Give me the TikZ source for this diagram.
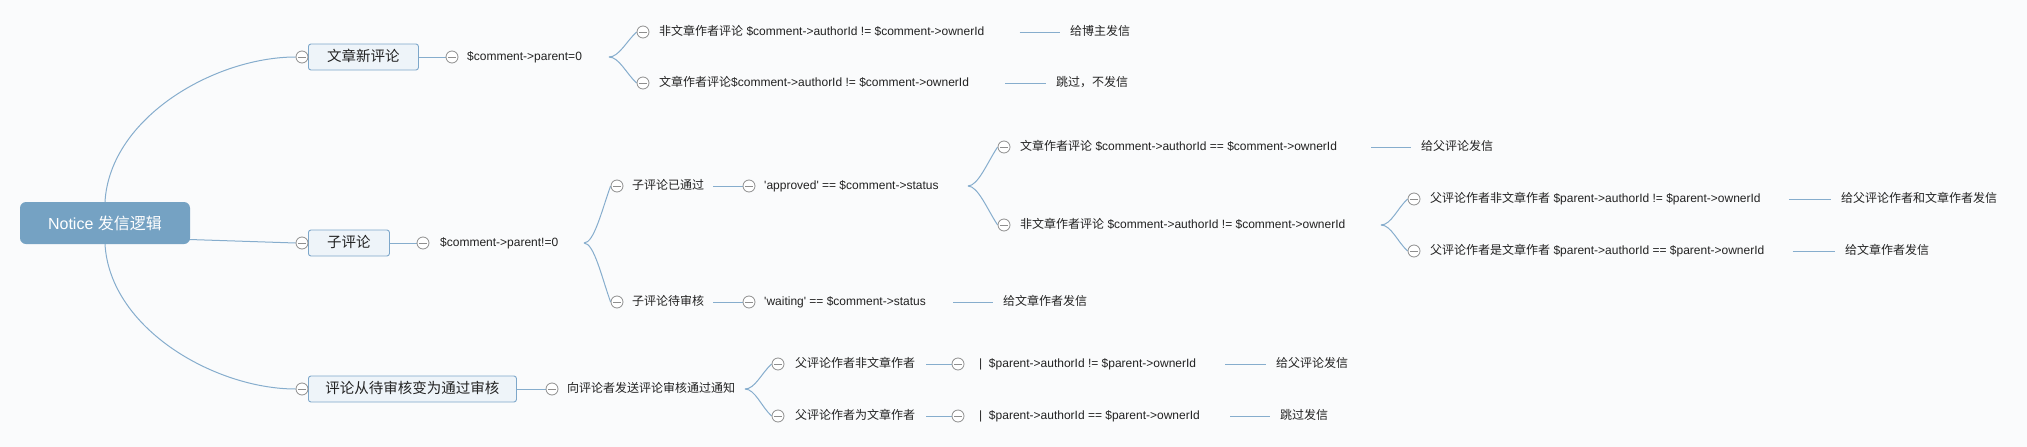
\documentclass[tikz,border=0pt]{standalone}
\usepackage{fontspec}
\setmainfont{Liberation Sans}
\newfontfamily\cjk{Noto Sans CJK SC}
\usetikzlibrary{calc}
\definecolor{bgc}{HTML}{FAFBFC}
\definecolor{linec}{HTML}{86ADCD}
\definecolor{rootc}{HTML}{75A2C3}
\definecolor{boxc}{HTML}{EEF4F9}
\definecolor{boxline}{HTML}{7DA7CA}
\definecolor{circc}{HTML}{8E8E8E}
\definecolor{txtc}{HTML}{222222}
\pgfdeclarelayer{bg}
\pgfsetlayers{bg,main}
\newcommand{\zh}[1]{{\cjk #1}}
\newcommand{\sq}{\textquotesingle}
\begin{document}
\begin{tikzpicture}[x=1pt,y=-1pt,
  rootbox/.style={fill=rootc, rounded corners=6pt, text=white, minimum width=170pt,
    minimum height=42pt, inner sep=0pt, font=\fontsize{16}{18}\selectfont},
  lonebox/.style={draw=boxline, fill=boxc, rounded corners=2.5pt, anchor=west,
    minimum height=26pt, inner xsep=0pt, inner ysep=0pt, line width=0.9pt, text=txtc,
    font=\fontsize{14.5}{16}\selectfont\cjk, text height=11pt, text depth=3pt},
  collapse/.style={circle, draw=circc, fill=white, minimum size=12pt, inner sep=0pt,
    line width=0.8pt,
    path picture={\draw[circc, line width=0.8pt]
      ([xshift=-4pt]path picture bounding box.center) --
      ([xshift=4pt]path picture bounding box.center);}},
  txt/.style={anchor=west, inner sep=0pt, text=txtc, font=\fontsize{12}{14}\selectfont,
    text height=9pt, text depth=3pt},
  link/.style={draw=linec, line width=1pt}
]
\begin{pgfonlayer}{bg}
\fill[bgc] (0,0) rectangle (2027,447);
\end{pgfonlayer}
\useasboundingbox (0,0) rectangle (2027,447);

% root
\node[rootbox] (root) at (105,223) {Notice \zh{发信逻辑}};

% level 1
\node[lonebox, minimum width=110pt] (a1) at (308,57) {文章新评论};
\node[lonebox, minimum width=81pt] (a2) at (308,243) {子评论};
\node[lonebox, minimum width=208pt] (a3) at (308,389) {评论从待审核变为通过审核};
\node[collapse] (k1) at (302,57) {};
\node[collapse] (k2) at (302,243) {};
\node[collapse] (k3) at (302,389) {};

% subtree 1
\node[collapse] (m1) at (452,57) {};
\node[txt] (b1) at (467,57) {\$comment->parent=0};
\coordinate (t1) at (609,57);
\node[collapse] (c11o) at (643,32) {};
\node[txt] (c11) at (659,32) {\zh{非文章作者评论} \$comment->authorId != \$comment->ownerId};
\node[txt] (l11) at (1070,32) {\zh{给博主发信}};
\node[collapse] (c12o) at (643,83) {};
\node[txt] (c12) at (659,83) {\zh{文章作者评论}\$comment->authorId != \$comment->ownerId};
\node[txt] (l12) at (1056,83) {\zh{跳过，不发信}};

% subtree 2
\node[collapse] (m2) at (423,243) {};
\node[txt] (b2) at (440,243) {\$comment->parent!=0};
\coordinate (t2) at (584,243);
\node[collapse] (c21o) at (617,186) {};
\node[txt] (c21) at (632,186) {\zh{子评论已通过}};
\node[collapse] (n21) at (749,186) {};
\node[txt] (d21) at (764,186) {\sq approved\sq{} == \$comment->status};
\coordinate (t3) at (968,186);
\node[collapse] (e1o) at (1004,147) {};
\node[txt] (e1) at (1020,147) {\zh{文章作者评论} \$comment->authorId == \$comment->ownerId};
\node[txt] (le1) at (1421,147) {\zh{给父评论发信}};
\node[collapse] (e2o) at (1004,225) {};
\node[txt] (e2) at (1020,225) {\zh{非文章作者评论} \$comment->authorId != \$comment->ownerId};
\coordinate (t4) at (1381,225);
\node[collapse] (f1o) at (1414,199) {};
\node[txt] (f1) at (1430,199) {\zh{父评论作者非文章作者} \$parent->authorId != \$parent->ownerId};
\node[txt] (lf1) at (1841,199) {\zh{给父评论作者和文章作者发信}};
\node[collapse] (f2o) at (1414,251) {};
\node[txt] (f2) at (1430,251) {\zh{父评论作者是文章作者} \$parent->authorId == \$parent->ownerId};
\node[txt] (lf2) at (1845,251) {\zh{给文章作者发信}};
\node[collapse] (c22o) at (617,302) {};
\node[txt] (c22) at (632,302) {\zh{子评论待审核}};
\node[collapse] (n22) at (749,302) {};
\node[txt] (d22) at (764,302) {\sq waiting\sq{} == \$comment->status};
\node[txt] (l22) at (1003,302) {\zh{给文章作者发信}};

% subtree 3
\node[collapse] (m3) at (552,389) {};
\node[txt] (b3) at (567,389) {\zh{向评论者发送评论审核通过通知}};
\coordinate (t5) at (745,389);
\node[collapse] (g1o) at (778,364) {};
\node[txt] (g1) at (795,364) {\zh{父评论作者非文章作者}};
\node[collapse] (h1) at (958,364) {};
\node[txt] (h1t) at (979,364) {| \ \$parent->authorId != \$parent->ownerId};
\node[txt] (lg1) at (1276,364) {\zh{给父评论发信}};
\node[collapse] (g2o) at (778,416) {};
\node[txt] (g2) at (795,416) {\zh{父评论作者为文章作者}};
\node[collapse] (h2) at (958,416) {};
\node[txt] (h2t) at (979,416) {| \ \$parent->authorId == \$parent->ownerId};
\node[txt] (lg2) at (1280,416) {\zh{跳过发信}};

\begin{pgfonlayer}{bg}
% root links
\draw[link] (root.north) .. controls +(5,-85) and +(-80,0) .. (k1.west);
\draw[link] ([shift={(-10,-5)}]root.south east) -- (k2.west);
\draw[link] (root.south) .. controls +(5,85) and +(-80,0) .. (k3.west);
% level1 -> level2
\draw[link] (a1.east) -- (m1.west);
\draw[link] (a2.east) -- (m2.west);
\draw[link] (a3.east) -- (m3.west);
% braces
\draw[link] (t1) .. controls +(10,0) and +(-10,9) .. (c11o.west);
\draw[link] (t1) .. controls +(10,0) and +(-10,-9) .. (c12o.west);
\draw[link] (t2) .. controls +(10,0) and +(-9,25) .. (c21o.west);
\draw[link] (t2) .. controls +(10,0) and +(-9,-25) .. (c22o.west);
\draw[link] (t3) .. controls +(10,0) and +(-10,15) .. (e1o.west);
\draw[link] (t3) .. controls +(10,0) and +(-10,-15) .. (e2o.west);
\draw[link] (t4) .. controls +(10,0) and +(-10,9) .. (f1o.west);
\draw[link] (t4) .. controls +(10,0) and +(-10,-9) .. (f2o.west);
\draw[link] (t5) .. controls +(10,0) and +(-10,9) .. (g1o.west);
\draw[link] (t5) .. controls +(10,0) and +(-10,-9) .. (g2o.west);
% text -> circle
\draw[link, shorten <=9pt] (c21.east) -- (n21.west);
\draw[link, shorten <=9pt] (c22.east) -- (n22.west);
\draw[link, shorten <=11pt] (g1.east) -- (h1.west);
\draw[link, shorten <=11pt] (g2.east) -- (h2.west);
% leaf lines
\draw[link, shorten <=35pt, shorten >=10pt] (c11.east) -- (l11.west);
\draw[link, shorten <=36pt, shorten >=10pt] (c12.east) -- (l12.west);
\draw[link, shorten <=34pt, shorten >=10pt] (e1.east) -- (le1.west);
\draw[link, shorten <=28pt, shorten >=10pt] (f1.east) -- (lf1.west);
\draw[link, shorten <=28pt, shorten >=10pt] (f2.east) -- (lf2.west);
\draw[link, shorten <=27pt, shorten >=10pt] (d22.east) -- (l22.west);
\draw[link, shorten <=29pt, shorten >=10pt] (h1t.east) -- (lg1.west);
\draw[link, shorten <=30pt, shorten >=10pt] (h2t.east) -- (lg2.west);
\end{pgfonlayer}
\end{tikzpicture}
\end{document}
